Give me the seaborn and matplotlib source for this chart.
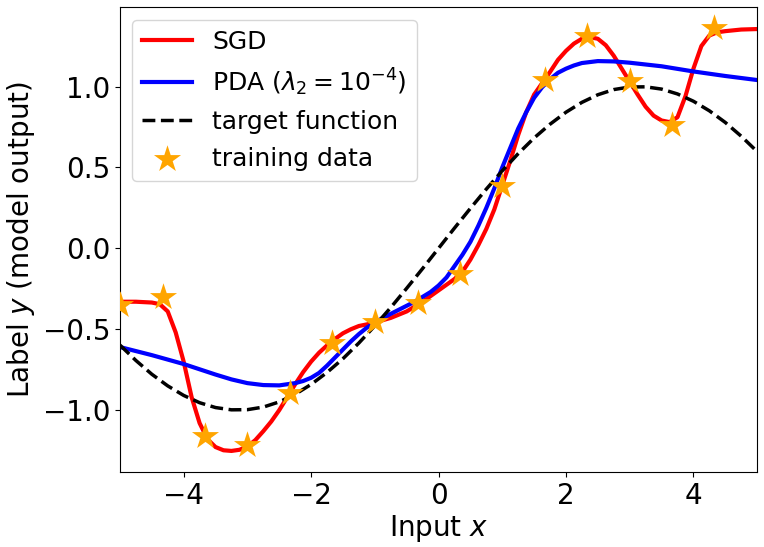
import numpy as np
import pandas as pd
import seaborn as sns
import matplotlib.pyplot as plt

# ======== SGD curve ================================
sgd_x = [-5.0, -4.75, -4.5, -4.375, -4.25, -4.125, -4.0, -3.875, -3.75, -3.625, -3.5,
         -3.375, -3.25, -3.125, -3.0, -2.875, -2.75, -2.625, -2.5, -2.375, -2.25,
         -2.125, -2.0, -1.875, -1.75, -1.625, -1.5, -1.375, -1.25, -1.125, -1.0,
         -0.75, -0.5, -0.375, -0.25, -0.125, 0.0, 0.125, 0.25, 0.375, 0.5,
         0.625, 0.75, 0.875, 1.0, 1.125, 1.25, 1.375, 1.5, 1.625, 1.75,
         1.875, 2.0, 2.125, 2.25, 2.375, 2.5, 2.625, 2.75, 2.875, 3.0,
         3.125, 3.25, 3.375, 3.5, 3.625, 3.75, 3.875, 4.0, 4.125, 4.25,
         4.375, 4.5, 4.75, 5.0]
sgd_y = [-0.33, -0.33, -0.335, -0.345, -0.39, -0.52, -0.70, -0.92, -1.08, -1.18, -1.228,
         -1.248, -1.252, -1.245, -1.225, -1.185, -1.13, -1.07, -1.00, -0.92, -0.84,
         -0.765, -0.70, -0.645, -0.60, -0.56, -0.525, -0.50, -0.48, -0.47, -0.458,
         -0.43, -0.39, -0.36, -0.33, -0.295, -0.26, -0.225, -0.19, -0.145, -0.07,
         0.02, 0.12, 0.24, 0.39, 0.54, 0.70, 0.84, 0.95, 1.02, 1.09,
         1.165, 1.22, 1.265, 1.295, 1.305, 1.295, 1.255, 1.19, 1.11, 1.03,
         0.95, 0.875, 0.82, 0.79, 0.78, 0.81, 0.94, 1.11, 1.25, 1.315,
         1.335, 1.342, 1.352, 1.355]

# ======== PDA curve =========
pda_x = [-5.0, -4.5, -4.0, -3.5, -3.25, -3.0, -2.75, -2.5, -2.25, -2.125, -2.0,
         -1.875, -1.75, -1.625, -1.5, -1.375, -1.25, -1.125, -1.0, -0.875, -0.75,
         -0.625, -0.5, -0.375, -0.25, -0.125, 0.0, 0.125, 0.25, 0.375, 0.5,
         0.625, 0.75, 0.875, 1.0, 1.125, 1.25, 1.375, 1.5, 1.625, 1.75,
         1.875, 2.0, 2.125, 2.25, 2.5, 2.75, 3.0, 3.5, 4.0, 4.5, 5.0]
pda_y = [-0.61, -0.66, -0.715, -0.78, -0.81, -0.833, -0.845, -0.847, -0.833, -0.82, -0.80,
         -0.77, -0.725, -0.675, -0.625, -0.575, -0.53, -0.49, -0.46, -0.43, -0.405,
         -0.38, -0.355, -0.33, -0.30, -0.27, -0.23, -0.18, -0.11, -0.04, 0.04,
         0.14, 0.25, 0.37, 0.50, 0.62, 0.74, 0.84, 0.93, 0.995, 1.045,
         1.085, 1.11, 1.13, 1.145, 1.157, 1.155, 1.147, 1.125, 1.093, 1.065, 1.04]

# ======== target function =========
target_x = [-5.0, -4.75, -4.5, -4.25, -4.0, -3.75, -3.5, -3.25, -3.0, -2.75, -2.5,
            -2.25, -2.0, -1.75, -1.5, -1.25, -1.0, -0.75, -0.5, -0.25, 0.0,
            0.25, 0.5, 0.75, 1.0, 1.25, 1.5, 1.75, 2.0, 2.25, 2.5,
            2.75, 3.0, 3.25, 3.5, 3.75, 4.0, 4.25, 4.5, 4.75, 5.0]
target_y = [-0.598, -0.693, -0.778, -0.850, -0.909, -0.954, -0.984, -0.998, -0.997, -0.981, -0.949,
            -0.902, -0.841, -0.767, -0.682, -0.585, -0.479, -0.366, -0.247, -0.125, 0.0,
            0.125, 0.247, 0.366, 0.479, 0.585, 0.682, 0.767, 0.841, 0.902, 0.949,
            0.981, 0.997, 0.998, 0.984, 0.954, 0.909, 0.850, 0.778, 0.693, 0.598]

# ======== training points =========
train_x = [-5.0, -4.33, -3.67, -3.0, -2.33, -1.67, -1.0, -0.33, 0.33, 1.0, 1.67, 2.33, 3.0, 3.67, 4.33]
train_y = [-0.35, -0.30, -1.16, -1.215, -0.897, -0.586, -0.456, -0.34, -0.16, 0.385, 1.04, 1.31, 1.035, 0.764, 1.36]

df_sgd = pd.DataFrame({'x': sgd_x, 'y': sgd_y})
df_pda = pd.DataFrame({'x': pda_x, 'y': pda_y})
df_tgt = pd.DataFrame({'x': target_x, 'y': target_y})
df_train = pd.DataFrame({'x': train_x, 'y': train_y})

fig, ax = plt.subplots(figsize=(7.64, 5.47), dpi=100)

sns.lineplot(data=df_sgd, x='x', y='y', color='red', lw=3, label='SGD', ax=ax)
sns.lineplot(data=df_pda, x='x', y='y', color='blue', lw=3,
             label=r'PDA ($\lambda_2=10^{-4}$)', ax=ax)
sns.lineplot(data=df_tgt, x='x', y='y', color='black', lw=2.5, ls='--',
             label='target function', ax=ax)
sns.scatterplot(data=df_train, x='x', y='y', marker='*', s=420, color='orange',
                linewidth=0, zorder=5, label='training data', ax=ax)

ax.set_xlim(-5, 5)
ax.set_xticks([-4, -2, 0, 2, 4])
ax.set_yticks([-1.0, -0.5, 0.0, 0.5, 1.0])
ax.tick_params(labelsize=20)
ax.set_xlabel('Input $x$', fontsize=20, labelpad=2)
ax.set_ylabel('Label $y$ (model output)', fontsize=20)
ax.legend(loc='upper left', fontsize=18)

fig.subplots_adjust(left=0.157, right=0.991, top=0.987, bottom=0.137)
fig.savefig('out.png', dpi=100)
